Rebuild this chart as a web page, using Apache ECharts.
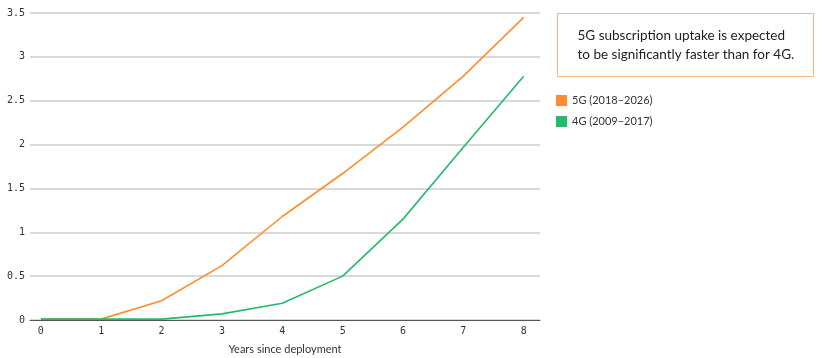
<!DOCTYPE html>
<html>
<head>
<meta charset="utf-8">
<script src="https://cdn.jsdelivr.net/npm/echarts@6/dist/echarts.min.js"></script>
<style>
html,body{margin:0;padding:0;background:#fff;}
#c{width:821px;height:358px;}
</style>
</head>
<body>
<div id="c"></div>
<script>
const years = [0, 1, 2, 3, 4, 5, 6, 7, 8];
const yTicks = [0, 0.5, 1, 1.5, 2, 2.5, 3, 3.5];
const series5G = [0.01, 0.01, 0.22, 0.62, 1.18, 1.67, 2.2, 2.78, 3.45];
const series4G = [0.01, 0.01, 0.01, 0.07, 0.19, 0.5, 1.15, 1.97, 2.78];
const name5G = '5G (2018\u20132026)';
const name4G = '4G (2009\u20132017)';
const xName = 'Years since deployment';
const note = '5G subscription uptake is expected\nto be significantly faster than for 4G.';

const chart = echarts.init(document.getElementById('c'));
const pair = arr => years.map((x, i) => [x, arr[i]]);
chart.setOption({
  animation: false,
  grid: {left: 30, right: 281, top: 13, bottom: 38, containLabel: false, outerBoundsMode: 'none'},
  legend: {
    orient: 'vertical', left: 556, top: 95, padding: 0, itemWidth: 11, itemHeight: 11, itemGap: 10,
    icon: 'rect',
    textStyle: {fontFamily: 'Lato', fontSize: 11, color: '#333'},
    data: [{name: name5G}, {name: name4G}]
  },
  graphic: [{
    type: 'group', left: 557, top: 13,
    children: [
      {type: 'rect', shape: {x: 0, y: 0, width: 256, height: 63},
       style: {fill: '#fff', stroke: '#FFB47C', lineWidth: 1}},
      {type: 'text', x: 20, y: 13,
       style: {text: note, font: '13.5px Lato', fill: '#222', lineHeight: 19}}
    ]
  }],
  xAxis: {
    type: 'value', min: -0.18, max: 8.27,
    name: xName, nameLocation: 'middle', nameGap: 24,
    nameTextStyle: {fontFamily: 'Lato', fontSize: 11, color: '#333'},
    axisLine: {show: true, lineStyle: {color: '#555', width: 1}},
    axisTick: {show: false},
    splitLine: {show: false},
    axisLabel: {customValues: years, fontFamily: 'DejaVu Sans Mono', fontSize: 10, color: '#333', margin: 6}
  },
  yAxis: {
    type: 'value', min: 0, max: 3.5, interval: 0.5,
    axisLine: {show: false}, axisTick: {show: false},
    splitLine: {lineStyle: {color: '#cccccc', width: 1.5}},
    axisLabel: {fontFamily: 'DejaVu Sans Mono', fontSize: 10, color: '#333', margin: 5,
      formatter: v => yTicks.includes(v) ? String(v) : ''}
  },
  series: [
    {name: name5G, type: 'line', data: pair(series5G), showSymbol: false, symbol: 'none',
     itemStyle: {color: '#FF8C2E'}, lineStyle: {color: '#FF8C2E', width: 1.6}},
    {name: name4G, type: 'line', data: pair(series4G), showSymbol: false, symbol: 'none',
     itemStyle: {color: '#25B96A'}, lineStyle: {color: '#25B96A', width: 1.6}}
  ]
});
</script>
</body>
</html>
